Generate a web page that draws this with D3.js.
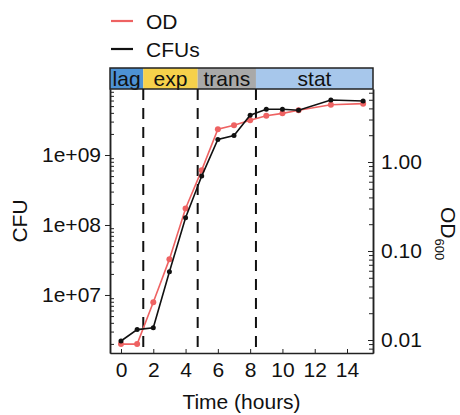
<!DOCTYPE html>
<html><head><meta charset="utf-8">
<script src="https://cdn.jsdelivr.net/npm/d3@7"></script>
<style>body{margin:0;background:#fff} text{font-family:"Liberation Sans",Arial,Helvetica,sans-serif;}</style>
</head><body><svg id="c" width="460" height="415"></svg>
<script>
const hours = [0,1,2,3,4,5,6,7,8,9,10,11,13,15];
const cfu = [2.2e6,3.2e6,3.4e6,2.15e7,1.27e8,5.0e8,1.67e9,1.9e9,3.7e9,4.5e9,4.5e9,4.35e9,6.1e9,5.9e9];
const od = [0.009,0.009,0.0265,0.081,0.30,0.81,2.33,2.58,2.94,3.31,3.52,3.81,4.4,4.52];
const phases = ["lag","exp","trans","stat"];
const phaseBreaks = [1.38,4.75,8.36];
const phaseColors = ["#4d92d4","#f6d14b","#a9a9a9","#a7c7eb"];
const xTicks = [0,2,4,6,8,10,12,14];
const cfuTicks = [1e7,1e8,1e9];
const cfuLabels = ["1e+07","1e+08","1e+09"];
const odTicks = [0.01,0.1,1];
const odLabels = ["0.01","0.10","1.00"];

const FS=21;
const svg = d3.select("#c");
const L=110,R=373,T=89,B=353,ST=68;
const x = d3.scaleLinear().domain([-0.681,15.61]).range([L,R]);
const yL = d3.scaleLog().domain([Math.pow(10,6.171),Math.pow(10,9.943)]).range([B,T]);
const yR = d3.scaleLog().domain([Math.pow(10,-2.146),Math.pow(10,0.820)]).range([B,T]);
const RED="#ee6262";

function minors(dom){const out=[];const lo=Math.floor(Math.log10(dom[0])),hi=Math.ceil(Math.log10(dom[1]));
 for(let e=lo;e<=hi;e++)for(let k=2;k<=9;k++){const v=k*Math.pow(10,e);if(v>=dom[0]&&v<=dom[1])out.push(v);}return out;}

// strip
const edges=[x.domain()[0],...phaseBreaks,x.domain()[1]];
const strip=svg.append("g");
phases.forEach((p,i)=>{
 const x0=x(edges[i]),x1=x(edges[i+1]);
 strip.append("rect").attr("x",x0).attr("y",ST).attr("width",x1-x0).attr("height",T-ST).attr("fill",phaseColors[i]);
 strip.append("text").attr("x",(x0+x1)/2).attr("y",(ST+T)/2).attr("dy","0.35em").attr("text-anchor","middle").attr("font-size",FS).attr("fill","#111").text(p);
});
strip.append("rect").attr("x",L).attr("y",ST).attr("width",R-L).attr("height",T-ST).attr("fill","none").attr("stroke","#222").attr("stroke-width",1.5);

// dashed lines
svg.append("g").selectAll("line").data(phaseBreaks).join("line")
 .attr("x1",d=>x(d)).attr("x2",d=>x(d)).attr("y1",T).attr("y2",B)
 .attr("stroke","#111").attr("stroke-width",2).attr("stroke-dasharray","11,8");

// axes
function style(g){g.selectAll("text").attr("font-size",FS).attr("fill","#111").attr("font-family",'"Liberation Sans",Arial,sans-serif');
 g.selectAll("line").attr("stroke","#222"); g.select(".domain").attr("stroke","#222").attr("stroke-width",1.5);}
svg.append("g").attr("transform",`translate(0,${B})`).call(d3.axisBottom(x).tickValues(xTicks).tickSize(-4).tickSizeOuter(0).tickPadding(9)).call(style);
svg.append("g").attr("transform",`translate(${L},0)`).call(d3.axisLeft(yL).tickValues(cfuTicks).tickFormat((d,i)=>cfuLabels[i]).tickSize(5).tickSizeOuter(0).tickPadding(4)).call(style);
svg.append("g").attr("transform",`translate(${L},0)`).call(d3.axisLeft(yL).tickValues(minors(yL.domain())).tickFormat("").tickSize(-4).tickSizeOuter(0)).call(style);
svg.append("g").attr("transform",`translate(${R},0)`).call(d3.axisRight(yR).tickValues(odTicks).tickFormat((d,i)=>odLabels[i]).tickSize(-5).tickSizeOuter(0).tickPadding(8)).call(style);
svg.append("g").attr("transform",`translate(${R},0)`).call(d3.axisRight(yR).tickValues(minors(yR.domain())).tickFormat("").tickSize(-4).tickSizeOuter(0)).call(style);

// axis titles
svg.append("text").attr("x",(L+R)/2).attr("y",409).attr("text-anchor","middle").attr("font-size",FS).attr("fill","#111").text("Time (hours)");
svg.append("text").attr("transform","translate(27,221) rotate(-90)").attr("text-anchor","middle").attr("font-size",FS).attr("fill","#111").text("CFU");
const odt=svg.append("text").attr("transform","translate(441,207) rotate(90)").attr("font-size",FS).attr("fill","#111");
odt.append("tspan").text("OD");
odt.append("tspan").attr("font-size",13).attr("dy",6).text("600");

// series
const odData=hours.map((h,i)=>({h,v:od[i]}));
const cfuData=hours.map((h,i)=>({h,v:cfu[i]}));
svg.append("path").datum(odData).attr("fill","none").attr("stroke",RED).attr("stroke-width",1.6)
 .attr("d",d3.line().x(d=>x(d.h)).y(d=>yR(d.v)));
svg.append("g").selectAll("circle").data(odData).join("circle").attr("cx",d=>x(d.h)).attr("cy",d=>yR(d.v)).attr("r",3).attr("fill",RED);
svg.append("path").datum(cfuData).attr("fill","none").attr("stroke","#111").attr("stroke-width",1.6)
 .attr("d",d3.line().x(d=>x(d.h)).y(d=>yL(d.v)));
svg.append("g").selectAll("circle").data(cfuData).join("circle").attr("cx",d=>x(d.h)).attr("cy",d=>yL(d.v)).attr("r",2.5).attr("fill","#111");

// legend
const leg=[{n:"OD",c:RED,y:21},{n:"CFUs",c:"#111",y:49}];
const lg=svg.append("g");
leg.forEach(d=>{
 lg.append("line").attr("x1",111).attr("x2",133).attr("y1",d.y).attr("y2",d.y).attr("stroke",d.c).attr("stroke-width",2.2);
 lg.append("text").attr("x",146).attr("y",d.y).attr("dy","0.36em").attr("font-size",FS).attr("fill","#111").text(d.n);
});
</script></body></html>
